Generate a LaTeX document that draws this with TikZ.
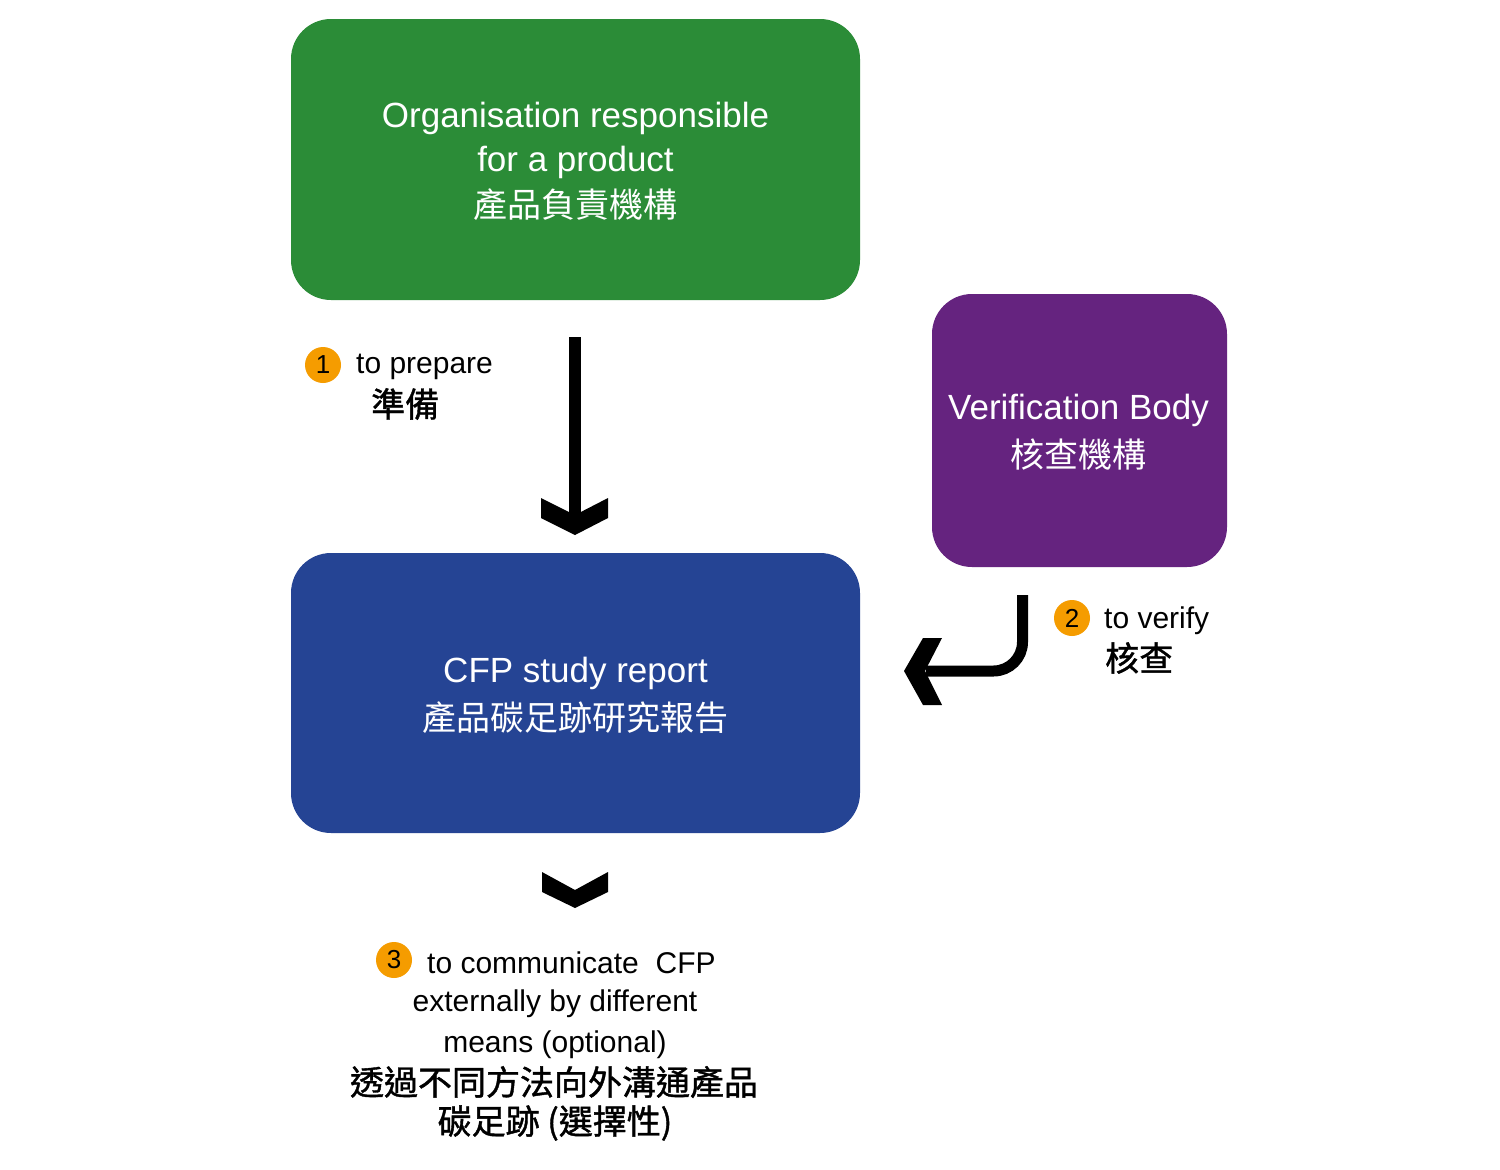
\documentclass[tikz,border=0pt]{standalone}
\usepackage{fontspec}
\setmainfont{Liberation Sans}
\newfontfamily\cjk{Noto Sans CJK TC}
\newfontfamily\cjkm[FakeBold=1.2]{Noto Sans CJK TC}
\definecolor{orgGreen}{HTML}{2B8C37}
\definecolor{vbPurple}{HTML}{65237F}
\definecolor{cfpBlue}{HTML}{254494}
\definecolor{badgeOrange}{HTML}{F59C00}
\tikzset{
  box/.style={rounded corners=40pt, draw=none, align=center, text=white, inner sep=0pt},
  boxfont/.style={font=\fontsize{35}{44}\selectfont},
  lbl/.style={inner sep=0pt, font=\fontsize{30}{40}\selectfont},
  cjklbl/.style={inner sep=0pt, font=\fontsize{34}{40}\selectfont\cjkm},
  badge/.style={circle, fill=badgeOrange, minimum size=36pt, inner sep=0pt, font=\fontsize{26}{26}\selectfont},
  shaft/.style={line width=12pt},
  chev/.style={fill=black, draw=none}
}
\begin{document}
\begin{tikzpicture}[x=1pt,y=-1pt]
\useasboundingbox (0,0) rectangle (1500,1170);
\fill[white] (0,0) rectangle (1500,1170);

% boxes
\node[box, fill=orgGreen, minimum width=569pt, minimum height=281pt] (org) at (575.5,159.5) {};
\node[boxfont, text=white, align=center, inner sep=0pt] (orgt) at (575.5,161.5)
  {Organisation responsible\\for a product\\[2pt]{\cjk\fontsize{34}{44}\selectfont 產品負責機構}};
\node[box, fill=vbPurple, minimum width=295pt, minimum height=273pt] (vb) at (1079.5,430.5) {};
\node[boxfont, text=white, align=center, inner sep=0pt] (vbt) at (1078.5,432.5)
  {Verification Body\\[4pt]{\cjk\fontsize{34}{44}\selectfont 核查機構}};
\node[box, fill=cfpBlue, minimum width=569pt, minimum height=280pt] (cfp) at (575.5,693) {};
\node[boxfont, text=white, align=center, inner sep=0pt] (cfpt) at (575.5,695)
  {CFP study report\\[4pt]{\cjk\fontsize{34}{44}\selectfont 產品碳足跡研究報告}};

% arrow 1
\coordinate (a1s) at (575,337);
\coordinate (a1e) at (575,516);
\draw[shaft] (a1s) -- (a1e);
\fill[chev] (541,498) -- (575,515) -- (608,498) -- (608,518) -- (575,535) -- (541,518) -- cycle;

% arrow 2
\coordinate (a2s) at (1022.5,595);
\coordinate (a2e) at (926,671);
\draw[line width=11pt] (a2s) -- (1022.5,642) arc[start angle=0, end angle=90, radius=29] -- (a2e);
\fill[chev] (923,638) -- (942,638) -- (925,671) -- (942,705) -- (923,705) -- (904,671) -- cycle;

% chevron 3
\fill[chev] (542,872) -- (575,890) -- (608,872) -- (608,892) -- (575,908) -- (542,892) -- cycle;

% label 1
\node[badge] (b1) at (323,365) {1};
\node[lbl, anchor=west] (l1) at (356,367) {to prepare};
\node[cjklbl, anchor=west] (l1c) at (371,404) {準備};

% label 2
\node[badge] (b2) at (1072,618) {2};
\node[lbl, anchor=west] (l2) at (1104,621) {to verify};
\node[cjklbl, anchor=west] (l2c) at (1105,658) {核查};

% label 3
\node[badge] (b3) at (394,960) {3};
\node[lbl, anchor=west] (l3a) at (427,963) {to communicate\ \ CFP};
\node[lbl] (l3b) at (555,1004) {externally by different};
\node[lbl] (l3c) at (555,1045) {means (optional)};
\node[cjklbl] (l3d) at (554,1082) {透過不同方法向外溝通產品};
\node[cjklbl] (l3e) at (555,1123) {碳足跡 (選擇性)};
\end{tikzpicture}
\end{document}
